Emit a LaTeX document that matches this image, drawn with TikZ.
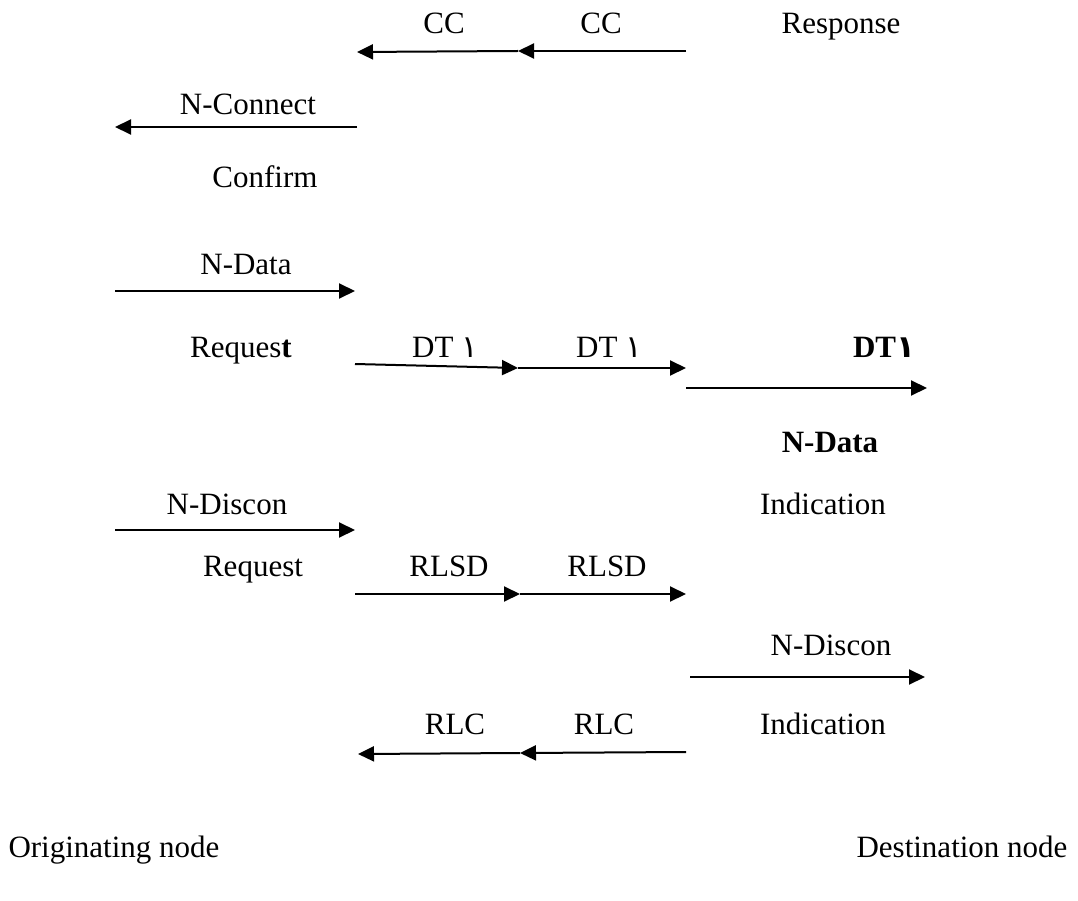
\documentclass[tikz,border=0pt]{standalone}
\usepackage{fontspec}
\setmainfont{Liberation Serif}
\newfontfamily\arabicfont[Script=Arabic]{DejaVu Sans}
\usetikzlibrary{arrows.meta}
\newcommand{\ardigit}{{\arabicfont ١}}
\begin{document}
\begin{tikzpicture}[x=1pt,y=-1pt,
  lbl/.style={anchor=base,inner sep=0pt,font=\fontsize{31}{37}\selectfont},
  msg/.style={line width=2pt,-{Triangle[length=16pt,width=15pt]}},
]
\useasboundingbox (0,0) rectangle (1078,901);

% ---- connection set-up: CC and N-Connect confirm
\coordinate (cc0) at (686,51);
\coordinate (cc1) at (518,51);
\coordinate (cc2) at (357,52);
\draw[msg] (cc0) -- (cc1);
\draw[msg] (cc1) -- (cc2);
\node[lbl] (ccA) at (444,34) {CC};
\node[lbl] (ccB) at (601,34) {CC};
\node[lbl] (resp) at (841,34) {Response};

\coordinate (nc0) at (357,127);
\coordinate (nc1) at (115,127);
\draw[msg] (nc0) -- (nc1);
\node[lbl] (nconn) at (248,115) {N-Connect};
\node[lbl] (conf) at (265,188) {Confirm};

% ---- data transfer
\coordinate (nd0) at (115,291);
\coordinate (nd1) at (355,291);
\draw[msg] (nd0) -- (nd1);
\node[lbl] (ndata) at (246,274) {N-Data};
\node[lbl] (req1) at (241,357) {Reques\textbf{t}};

\coordinate (dt0) at (355,364);
\coordinate (dt1) at (518,368);
\coordinate (dt2) at (686,368);
\coordinate (dt3) at (686,388);
\coordinate (dt4) at (927,388);
\draw[msg] (dt0) -- (dt1);
\draw[msg] (dt1) -- (dt2);
\draw[msg] (dt3) -- (dt4);
\node[lbl] (dtA) at (445,357) {DT \ardigit};
\node[lbl] (dtB) at (609,357) {DT \ardigit};
\node[lbl] (dtC) at (884,357) {\textbf{DT}{\arabicfont\bfseries ١}};
\node[lbl] (ndata2) at (830,452) {\textbf{N-Data}};

% ---- release
\coordinate (dc0) at (115,530);
\coordinate (dc1) at (355,530);
\draw[msg] (dc0) -- (dc1);
\node[lbl] (ndisc) at (227,514) {N-Discon};
\node[lbl] (ind1) at (823,514) {Indication};
\node[lbl] (req2) at (253,576) {Request};

\coordinate (rs0) at (355,594);
\coordinate (rs1) at (520,594);
\coordinate (rs2) at (686,594);
\draw[msg] (rs0) -- (rs1);
\draw[msg] (rs1) -- (rs2);
\node[lbl] (rlsdA) at (449,576) {RLSD};
\node[lbl] (rlsdB) at (607,576) {RLSD};

\coordinate (di0) at (690,677);
\coordinate (di1) at (925,677);
\draw[msg] (di0) -- (di1);
\node[lbl] (ndisc2) at (831,655) {N-Discon};

\coordinate (rc0) at (686,752);
\coordinate (rc1) at (520,753);
\coordinate (rc2) at (358,754);
\draw[msg] (rc0) -- (rc1);
\draw[msg] (rc1) -- (rc2);
\node[lbl] (rlcA) at (455,734) {RLC};
\node[lbl] (rlcB) at (604,734) {RLC};
\node[lbl] (ind2) at (823,734) {Indication};

% ---- end points
\node[lbl] (orig) at (114,857) {Originating node};
\node[lbl] (dest) at (962,857) {Destination node};
\end{tikzpicture}
\end{document}
